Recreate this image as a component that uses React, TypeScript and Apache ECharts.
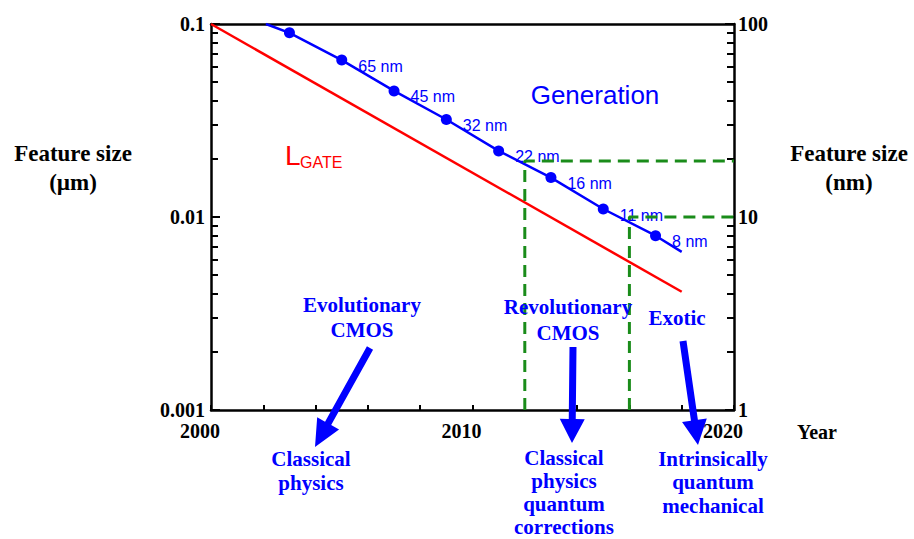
import React, { useEffect, useRef } from 'react';
import * as echarts from 'echarts';

// ---- data (feature size in µm) ----
const nodeYears = [2003, 2005, 2007, 2009, 2011, 2013, 2015, 2017];
const nodeSizesUm = [0.09, 0.065, 0.045, 0.032, 0.022, 0.016, 0.011, 0.008];
const nodeLabels = ['', '65 nm', '45 nm', '32 nm', '22 nm', '16 nm', '11 nm', '8 nm'];
const trendYears = [2002.1, 2018];
const trendSizesUm = [0.1, 0.0066];
const lgateYears = [2000, 2018];
const lgateSizesUm = [0.1, 0.0041];
const revolutionaryYear = 2012;
const revolutionarySizeUm = 0.0195;
const exoticYear = 2016;
const exoticSizeUm = 0.01;
const xLabelYears = [2000, 2010, 2020];
const yMinUm = 0.001;
const yMaxUm = 0.1;
const yMinNm = 1;
const yMaxNm = 100;
const minorMultipliers = [2, 3, 4, 5, 6, 7, 8, 9];

const BLUE = '#0000ff';
const GREEN = '#1a8c1a';
const SERIF = '"Liberation Serif", "Times New Roman", serif';
const SANS = '"Liberation Sans", Arial, sans-serif';

function minorTicks(lo: number, hi: number): number[] {
  const out: number[] = [];
  for (let d = lo; d < hi; d++) {
    for (const m of minorMultipliers) out.push(Math.log10(m) + d);
  }
  return out;
}

function arrow(x1: number, y1: number, x2: number, y2: number, sw: number, hw: number, hl: number) {
  const dx = x2 - x1, dy = y2 - y1;
  const L = Math.hypot(dx, dy);
  const ux = dx / L, uy = dy / L;
  const px = -uy, py = ux;
  const bx = x2 - ux * hl, by = y2 - uy * hl;
  return {
    type: 'polygon',
    shape: {
      points: [
        [x1 + px * sw / 2, y1 + py * sw / 2],
        [bx + px * sw / 2, by + py * sw / 2],
        [bx + px * hw / 2, by + py * hw / 2],
        [x2, y2],
        [bx - px * hw / 2, by - py * hw / 2],
        [bx - px * sw / 2, by - py * sw / 2],
        [x1 - px * sw / 2, y1 - py * sw / 2],
      ],
    },
    style: { fill: BLUE },
    z: 10,
  };
}

function txt(text: string, x: number, y: number, font: string, fill: string, align = 'center', lineHeight?: number, vAlign = 'middle') {
  const style: any = { text, fill, font, textAlign: align, textVerticalAlign: vAlign };
  if (lineHeight) style.lineHeight = lineHeight;
  return { type: 'text', x, y, style, z: 10 };
}

export default function App() {
  const ref = useRef<HTMLDivElement>(null);
  useEffect(() => {
    if (!ref.current) return;
    const chart = echarts.init(ref.current, undefined, { renderer: 'svg' });

    const blueData: any[] = [
      { value: [trendYears[0], trendSizesUm[0]], symbol: 'none', name: '' },
      ...nodeYears.map((yr, i) => ({ value: [yr, nodeSizesUm[i]], name: nodeLabels[i] })),
      { value: [trendYears[1], trendSizesUm[1]], symbol: 'none', name: '' },
    ];

    const axisLineStyle = { color: '#000', width: 2.5 };
    const tickStyle = { color: '#000', width: 2 };
    const bold20 = { color: '#000', fontFamily: SERIF, fontWeight: 'bold' as const, fontSize: 20 };
    const fmt = (v: number) => String(Number(Number(v).toPrecision(1)));
    const annFont = `bold 21px ${SERIF}`;

    const option: any = {
      animation: false,
      backgroundColor: '#fff',
      grid: { left: 211, top: 24, width: 523, height: 386 },
      xAxis: [
        {
          type: 'value', min: 2000, max: 2020, interval: 2, position: 'bottom',
          axisLine: { show: true, onZero: false, lineStyle: axisLineStyle },
          axisTick: { show: true, inside: true, length: 5, lineStyle: tickStyle },
          axisLabel: { ...bold20, customValues: xLabelYears, formatter: (v: number) => String(v), margin: 11, padding: [0, 22, 0, 0] },
          splitLine: { show: false },
        },
        {
          type: 'value', min: 2000, max: 2020, position: 'top',
          axisLine: { show: true, onZero: false, lineStyle: axisLineStyle },
          axisTick: { show: false }, axisLabel: { show: false }, splitLine: { show: false },
        },
      ],
      yAxis: [
        {
          type: 'log', logBase: 10, min: yMinUm, max: yMaxUm, position: 'left',
          axisLine: { show: true, onZero: false, lineStyle: axisLineStyle },
          axisTick: { show: true, inside: true, length: 9, lineStyle: tickStyle },
          axisLabel: { ...bold20, formatter: fmt, margin: 6, padding: [0, 0, 8, 0] },
          splitLine: { show: false },
        },
        {
          type: 'value', min: Math.log10(yMinUm), max: Math.log10(yMaxUm), position: 'left',
          axisLine: { show: false },
          axisTick: { show: true, inside: true, length: 7, lineStyle: tickStyle, customValues: minorTicks(Math.log10(yMinUm), Math.log10(yMaxUm)) },
          axisLabel: { show: false }, splitLine: { show: false },
        },
        {
          type: 'log', logBase: 10, min: yMinNm, max: yMaxNm, position: 'right',
          axisLine: { show: true, onZero: false, lineStyle: axisLineStyle },
          axisTick: { show: true, inside: true, length: 9, lineStyle: tickStyle },
          axisLabel: { ...bold20, formatter: fmt, margin: 4, padding: [0, 0, 8, 0] },
          splitLine: { show: false },
        },
        {
          type: 'value', min: Math.log10(yMinNm), max: Math.log10(yMaxNm), position: 'right',
          axisLine: { show: false },
          axisTick: { show: true, inside: true, length: 7, lineStyle: tickStyle, customValues: minorTicks(Math.log10(yMinNm), Math.log10(yMaxNm)) },
          axisLabel: { show: false }, splitLine: { show: false },
        },
      ],
      series: [
        {
          type: 'line', name: 'LGATE', xAxisIndex: 0, yAxisIndex: 0,
          data: lgateYears.map((yr, i) => [yr, lgateSizesUm[i]]),
          symbol: 'none', lineStyle: { color: '#ff0000', width: 2.5 }, z: 2,
        },
        {
          type: 'line', name: 'Generation', xAxisIndex: 0, yAxisIndex: 0,
          data: blueData, symbol: 'circle', symbolSize: 11,
          itemStyle: { color: BLUE }, lineStyle: { color: BLUE, width: 2.5 },
          label: {
            show: true, position: 'right', distance: 11, offset: [0, 6],
            formatter: (p: any) => p.name || '', color: BLUE, fontFamily: SANS, fontSize: 16,
          },
          z: 2,
        },
        {
          type: 'line', name: 'Revolutionary', xAxisIndex: 0, yAxisIndex: 0,
          data: [[revolutionaryYear, yMinUm], [revolutionaryYear, revolutionarySizeUm], [2020, revolutionarySizeUm]],
          symbol: 'none', lineStyle: { color: GREEN, width: 3, type: [12, 7] }, z: 5,
        },
        {
          type: 'line', name: 'Exotic', xAxisIndex: 0, yAxisIndex: 0,
          data: [[exoticYear, yMinUm], [exoticYear, exoticSizeUm], [2020, exoticSizeUm]],
          symbol: 'none', lineStyle: { color: GREEN, width: 3, type: [12, 7] }, z: 5,
        },
      ],
      graphic: [
        txt('Feature size', 73, 153, `bold 23px ${SERIF}`, '#000'),
        txt('(µm)', 73, 182, `bold 23px ${SERIF}`, '#000'),
        txt('Feature size', 849, 153, `bold 23px ${SERIF}`, '#000'),
        txt('(nm)', 849, 182, `bold 23px ${SERIF}`, '#000'),
        txt('Year', 817, 432, `bold 20px ${SERIF}`, '#000'),
        txt('Generation', 595, 95, `26px ${SANS}`, BLUE),
        txt('L', 285, 155, `28px ${SANS}`, '#ff0000', 'left'),
        txt('GATE', 300, 162, `16px ${SANS}`, '#ff0000', 'left'),
        txt('Evolutionary\nCMOS', 362, 292.5, annFont, BLUE, 'center', 25, 'top'),
        txt('Revolutionary\nCMOS', 568, 294, annFont, BLUE, 'center', 26, 'top'),
        txt('Exotic', 677, 318, annFont, BLUE),
        txt('Classical\nphysics', 311, 447, annFont, BLUE, 'center', 24, 'top'),
        txt('Classical\nphysics\nquantum\ncorrections', 564, 446, annFont, BLUE, 'center', 23, 'top'),
        txt('Intrinsically\nquantum\nmechanical', 713, 447, annFont, BLUE, 'center', 23.5, 'top'),
        arrow(370, 348, 315, 447, 7, 25, 27),
        arrow(573, 347, 572, 443, 7, 25, 24),
        arrow(683, 341, 698, 445, 7, 25, 25),
      ],
    };

    chart.setOption(option);
    return () => chart.dispose();
  }, []);

  return (
    <div
      ref={ref}
      style={{ position: 'fixed', left: 0, top: 0, width: 914, height: 539, background: '#fff' }}
    />
  );
}
